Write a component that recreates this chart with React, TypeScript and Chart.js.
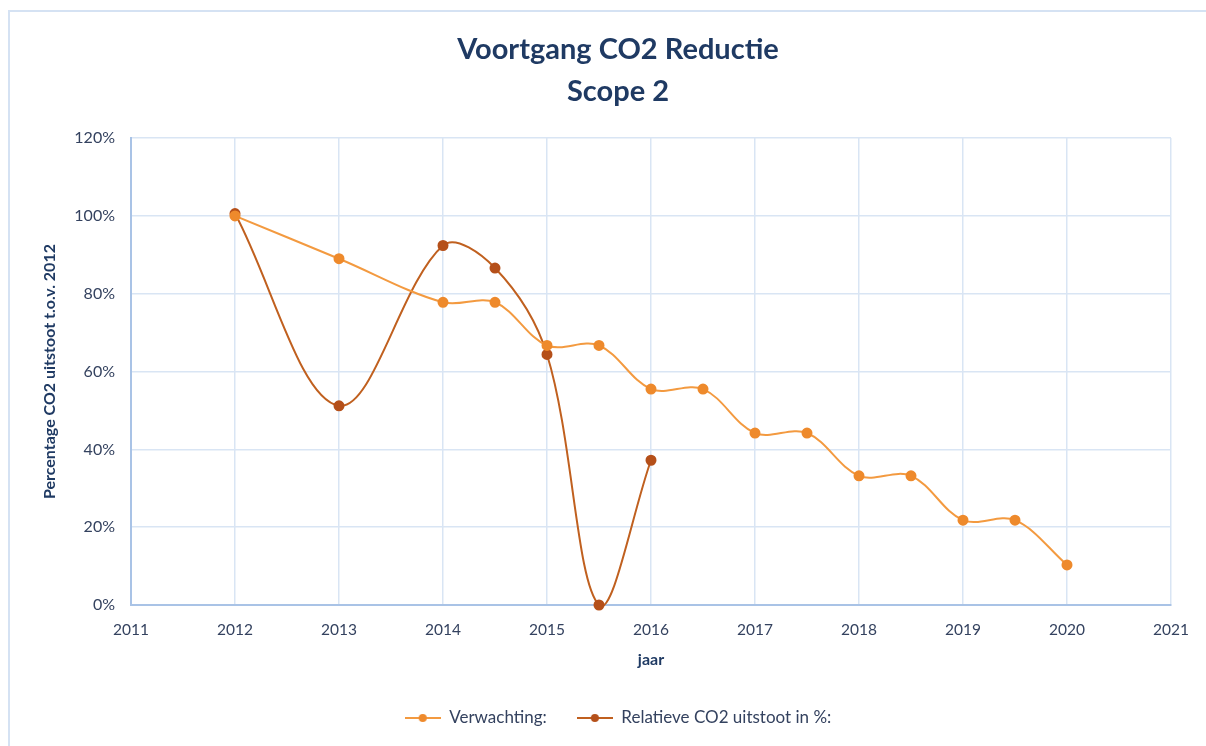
import React, { useEffect, useRef } from "react";
import { Chart, registerables } from "chart.js";

Chart.register(...registerables);

const titleLines = ["Voortgang CO2 Reductie", "Scope 2"];
const yAxisTitle = "Percentage CO2 uitstoot t.o.v. 2012";
const xAxisTitle = "jaar";

const verwachtingLabel = "Verwachting:";
const verwachtingYears = [2012, 2013, 2014, 2014.5, 2015, 2015.5, 2016, 2016.5, 2017, 2017.5, 2018, 2018.5, 2019, 2019.5, 2020];
const verwachtingValues = [100, 89, 77.8, 77.8, 66.7, 66.7, 55.5, 55.5, 44.2, 44.2, 33.2, 33.2, 21.8, 21.8, 10.3];

const relatieveLabel = "Relatieve CO2 uitstoot in %:";
const relatieveYears = [2012, 2013, 2014, 2014.5, 2015, 2015.5, 2016];
const relatieveValues = [100.6, 51.2, 92.4, 86.6, 64.4, 0, 37.2];

const xMin = 2011;
const xMax = 2021;
const yMin = 0;
const yMax = 120;
const yStep = 20;

const FONT = "Lato, 'Open Sans', sans-serif";
const TEXT_COLOR = "#34425F";
const TITLE_COLOR = "#1F3A63";
const GRID_COLOR = "#D9E5F4";
const AXIS_COLOR = "#A9C3E6";

const VERW_LINE = "#F39A40";
const VERW_POINT = "#EE8A2C";
const REL_LINE = "#C0601F";
const REL_POINT = "#B5501A";

function makeIcon(line: string, point: string): HTMLCanvasElement {
  const c = document.createElement("canvas");
  c.width = 36;
  c.height = 12;
  const ctx = c.getContext("2d")!;
  ctx.strokeStyle = line;
  ctx.lineWidth = 2;
  ctx.beginPath();
  ctx.moveTo(0, 6);
  ctx.lineTo(36, 6);
  ctx.stroke();
  ctx.fillStyle = point;
  ctx.beginPath();
  ctx.arc(18, 6, 4, 0, Math.PI * 2);
  ctx.fill();
  return c;
}

export default function App() {
  const ref = useRef<HTMLCanvasElement | null>(null);

  useEffect(() => {
    if (!ref.current) return;
    const icons = [makeIcon(VERW_LINE, VERW_POINT), makeIcon(REL_LINE, REL_POINT)];
    const chart = new Chart(ref.current, {
      type: "line",
      data: {
        datasets: [
          {
            label: verwachtingLabel,
            data: verwachtingYears.map((x, i) => ({ x, y: verwachtingValues[i] })),
            borderColor: VERW_LINE,
            backgroundColor: VERW_POINT,
            pointBackgroundColor: VERW_POINT,
            pointBorderColor: VERW_POINT,
            pointRadius: 4.5,
            borderWidth: 2,
            tension: 0.35,
            clip: false as any,
          },
          {
            label: relatieveLabel,
            data: relatieveYears.map((x, i) => ({ x, y: relatieveValues[i] })),
            borderColor: REL_LINE,
            backgroundColor: REL_POINT,
            pointBackgroundColor: REL_POINT,
            pointBorderColor: REL_POINT,
            pointRadius: 4.5,
            borderWidth: 2,
            tension: 0.35,
            clip: false as any,
          },
        ],
      },
      options: {
        animation: false,
        responsive: false,
        maintainAspectRatio: false,
        layout: { padding: { left: 65, right: 35, top: 0, bottom: 9.5 } },
        elements: { line: { capBezierPoints: false } },
        scales: {
          x: {
            type: "linear",
            min: xMin,
            max: xMax,
            afterFit: (s: any) => {
              s.height = 74.5;
            },
            ticks: {
              stepSize: 1,
              padding: 16,
              color: TEXT_COLOR,
              font: { family: FONT, size: 15.5 },
              maxRotation: 0,
              callback: (v: any) => String(v),
            },
            grid: { color: GRID_COLOR, lineWidth: 1.5, drawTicks: false },
            border: { color: AXIS_COLOR, width: 2 },
            title: {
              display: true,
              text: xAxisTitle,
              color: TITLE_COLOR,
              font: { family: FONT, size: 16, weight: "bold" },
              padding: { top: 0, bottom: 10 },
            },
          },
          y: {
            min: yMin,
            max: yMax,
            afterFit: (s: any) => {
              s.width = 66;
            },
            ticks: {
              stepSize: yStep,
              padding: 16,
              color: TEXT_COLOR,
              font: { family: FONT, size: 16 },
              callback: (v: any) => v + "%",
            },
            grid: { color: GRID_COLOR, lineWidth: 1.5, drawTicks: false },
            border: { color: AXIS_COLOR, width: 2 },
            title: {
              display: true,
              text: yAxisTitle,
              color: TITLE_COLOR,
              font: { family: FONT, size: 16, weight: "bold" },
              padding: { top: -24.6, bottom: 0 },
            },
          },
        },
        plugins: {
          title: {
            display: true,
            text: titleLines,
            color: TITLE_COLOR,
            font: { family: FONT, size: 29, weight: "bold", lineHeight: 1.45 },
            padding: { top: 29, bottom: 25 },
          },
          legend: {
            display: true,
            position: "bottom",
            labels: {
              usePointStyle: true,
              pointStyleWidth: 36,
              padding: 30,
              color: TEXT_COLOR,
              font: { family: FONT, size: 17 },
              generateLabels: (c: any) => {
                const items = Chart.defaults.plugins.legend.labels.generateLabels(c);
                return items.map((it: any, i: number) => ({ ...it, pointStyle: icons[i] }));
              },
            },
          },
          tooltip: { enabled: false },
        },
      },
    });
    return () => chart.destroy();
  }, []);

  return (
    <div>
      <div
        style={{
          position: "absolute",
          left: 8,
          top: 10,
          width: 1198,
          height: 736,
          borderTop: "2px solid #D5E2F3",
          borderLeft: "2px solid #D5E2F3",
          boxSizing: "border-box",
        }}
      />
      <canvas
        ref={ref}
        width={1206}
        height={746}
        style={{ position: "absolute", left: 0, top: 0, width: 1206, height: 746 }}
      />
    </div>
  );
}
